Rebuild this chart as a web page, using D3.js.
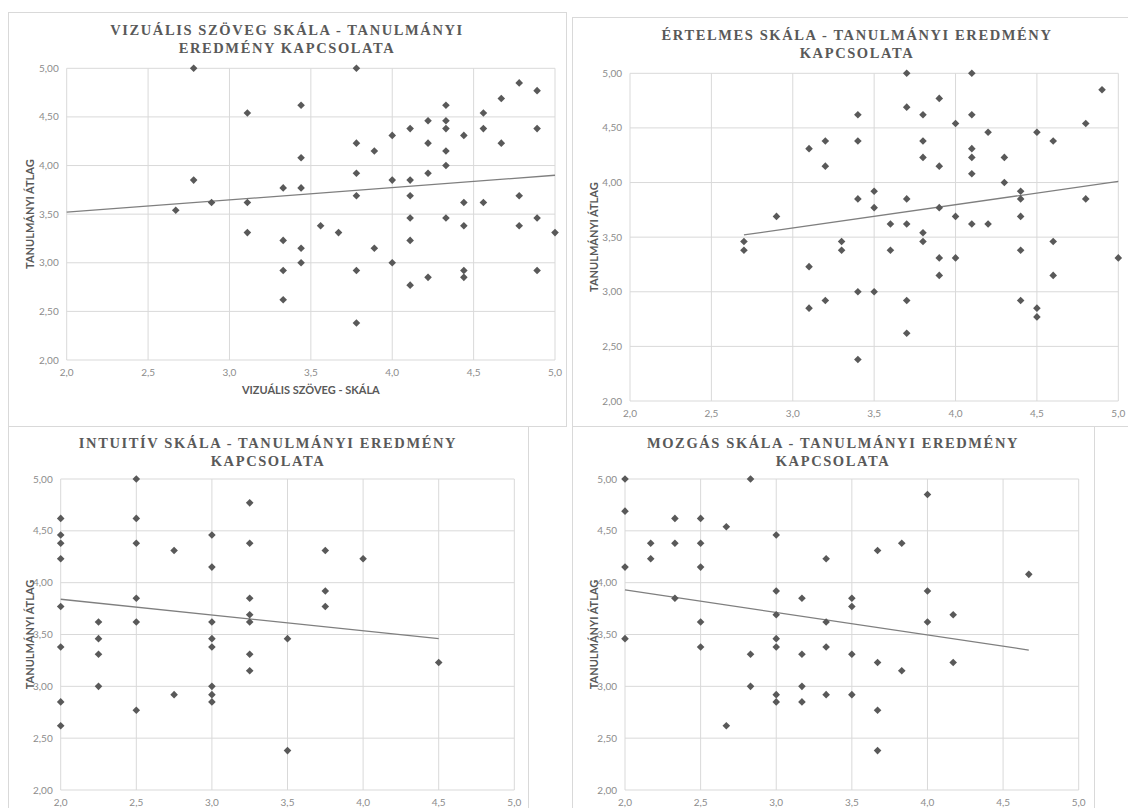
<!DOCTYPE html>
<html><head><meta charset="utf-8">
<script src="https://cdn.jsdelivr.net/npm/d3@7"></script>
<style>
html,body{margin:0;padding:0;background:#fff;}
svg{display:block;}
</style></head>
<body><svg id="c" width="1128" height="808"></svg>
<script>
// ---- Data ----
const xTicks = [2.0, 2.5, 3.0, 3.5, 4.0, 4.5, 5.0];
const yTicks = [2.0, 2.5, 3.0, 3.5, 4.0, 4.5, 5.0];
const yAxisTitle = "TANULMÁNYI ÁTLAG";

// Panel 1: Vizuális szöveg skála
const title1 = ["VIZUÁLIS SZÖVEG SKÁLA - TANULMÁNYI", "EREDMÉNY KAPCSOLATA"];
const xTitle1 = "VIZUÁLIS SZÖVEG - SKÁLA";
const vizX = [2.78,3.78,4.78,4.89,3.11,3.44,4.33,4.56,4.67,4.22,4.33,4.11,4.33,4.56,4.89,4.00,4.44,3.78,4.22,4.67,3.89,4.33,3.44,4.33,3.78,4.22,2.78,4.00,4.11,3.33,3.44,3.78,4.11,4.78,2.89,3.11,4.44,4.56,2.67,4.11,4.33,4.89,3.56,4.44,4.78,3.11,3.67,5.00,3.33,4.11,3.44,3.89,3.44,4.00,3.33,3.78,4.44,4.89,4.11,4.22,4.44,3.33,3.78];
const vizY = [5.00,5.00,4.85,4.77,4.54,4.62,4.62,4.54,4.69,4.46,4.46,4.38,4.38,4.38,4.38,4.31,4.31,4.23,4.23,4.23,4.15,4.15,4.08,4.00,3.92,3.92,3.85,3.85,3.85,3.77,3.77,3.69,3.69,3.69,3.62,3.62,3.62,3.62,3.54,3.46,3.46,3.46,3.38,3.38,3.38,3.31,3.31,3.31,3.23,3.23,3.15,3.15,3.00,3.00,2.92,2.92,2.92,2.92,2.77,2.85,2.85,2.62,2.38];
const trend1X = [2.0, 5.0];
const trend1Y = [3.52, 3.90];

// Panel 2: Értelmes skála
const title2 = ["ÉRTELMES SKÁLA - TANULMÁNYI EREDMÉNY", "KAPCSOLATA"];
const ertX = [3.7,4.1,4.9,3.9,3.7,3.4,3.8,4.1,4.0,4.8,4.2,4.5,3.2,3.4,3.8,4.6,3.1,4.1,3.8,4.1,4.3,3.2,3.9,4.1,4.3,3.5,4.4,3.4,3.7,4.4,4.8,3.5,3.9,2.9,4.0,4.4,3.6,3.7,4.1,4.2,3.8,2.7,3.3,3.8,4.6,2.7,3.3,3.6,4.4,3.9,4.0,5.0,3.1,3.9,4.6,3.4,3.5,3.2,3.7,4.4,3.1,4.5,4.5,3.7,3.4];
const ertY = [5.00,5.00,4.85,4.77,4.69,4.62,4.62,4.62,4.54,4.54,4.46,4.46,4.38,4.38,4.38,4.38,4.31,4.31,4.23,4.23,4.23,4.15,4.15,4.08,4.00,3.92,3.92,3.85,3.85,3.85,3.85,3.77,3.77,3.69,3.69,3.69,3.62,3.62,3.62,3.62,3.54,3.46,3.46,3.46,3.46,3.38,3.38,3.38,3.38,3.31,3.31,3.31,3.23,3.15,3.15,3.00,3.00,2.92,2.92,2.92,2.85,2.85,2.77,2.62,2.38];
const trend2X = [2.7, 5.0];
const trend2Y = [3.52, 4.01];

// Panel 3: Intuitív skála
const title3 = ["INTUITÍV SKÁLA - TANULMÁNYI EREDMÉNY", "KAPCSOLATA"];
const intX = [2.0,2.0,2.0,2.0,2.0,2.0,2.0,2.0,2.25,2.25,2.25,2.25,2.5,2.5,2.5,2.5,2.5,2.5,2.75,2.75,3.0,3.0,3.0,3.0,3.0,3.0,3.0,3.0,3.25,3.25,3.25,3.25,3.25,3.25,3.25,3.5,3.5,3.75,3.75,3.75,4.0,4.5];
const intY = [4.62,4.46,4.38,4.23,3.77,3.38,2.85,2.62,3.62,3.46,3.31,3.00,5.00,4.62,4.38,3.85,3.62,2.77,4.31,2.92,4.46,4.15,3.62,3.46,3.38,3.00,2.92,2.85,4.77,4.38,3.85,3.69,3.62,3.31,3.15,3.46,2.38,4.31,3.92,3.77,4.23,3.23];
const trend3X = [2.0, 4.5];
const trend3Y = [3.84, 3.46];

// Panel 4: Mozgás skála
const title4 = ["MOZGÁS SKÁLA - TANULMÁNYI EREDMÉNY", "KAPCSOLATA"];
const mozX = [2.0,2.0,2.0,2.0,2.17,2.17,2.33,2.33,2.33,2.5,2.5,2.5,2.5,2.5,2.67,2.67,2.83,2.83,2.83,3.0,3.0,3.0,3.0,3.0,3.0,3.0,3.17,3.17,3.17,3.17,3.33,3.33,3.33,3.33,3.5,3.5,3.5,3.5,3.67,3.67,3.67,3.67,3.83,3.83,4.0,4.0,4.0,4.17,4.17,4.67];
const mozY = [5.00,4.69,4.15,3.46,4.38,4.23,4.62,4.38,3.85,4.62,4.38,4.15,3.62,3.38,4.54,2.62,5.00,3.31,3.00,4.46,3.92,3.69,3.46,3.38,2.92,2.85,3.85,3.31,3.00,2.85,4.23,3.62,3.38,2.92,3.85,3.77,3.31,2.92,4.31,3.23,2.77,2.38,4.38,3.15,4.85,3.92,3.62,3.69,3.23,4.08];
const trend4X = [2.0, 4.67];
const trend4Y = [3.93, 3.35];

// ---- Layout ----
const panels = [
  {box:[8,12,558,414], plot:[66.7,68.3,555,360], title:title1, tY:35, xTitle:xTitle1, xs:vizX, ys:vizY, tx:trend1X, ty:trend1Y},
  {box:[572,17,570,409], plot:[630,73.3,1118.3,401], title:title2, tY:40, xs:ertX, ys:ertY, tx:trend2X, ty:trend2Y},
  {box:[8,426,520,400], plot:[60.7,479,514.3,790], title:title3, tY:448, xs:intX, ys:intY, tx:trend3X, ty:trend3Y},
  {box:[572,426,522,400], plot:[625,479,1078.7,790], title:title4, tY:448, xs:mozX, ys:mozY, tx:trend4X, ty:trend4Y}
];

const svg = d3.select("#c");
const fmtX = v => d3.format(".1f")(v).replace(".", ",");
const fmtY = v => d3.format(".2f")(v).replace(".", ",");

panels.forEach(p => {
  const g = svg.append("g");
  const [bx,by,bw,bh] = p.box;
  g.append("rect").attr("x",bx+0.5).attr("y",by+0.5).attr("width",bw).attr("height",bh)
    .attr("fill","#fff").attr("stroke","#d9d9d9").attr("stroke-width",1);
  const [l,t,r,b] = p.plot;
  const x = d3.scaleLinear().domain([2,5]).range([l,r]);
  const y = d3.scaleLinear().domain([2,5]).range([b,t]);

  // gridlines
  g.append("g").selectAll("line").data(xTicks).join("line")
    .attr("x1",d=>x(d)).attr("x2",d=>x(d)).attr("y1",t).attr("y2",b)
    .attr("stroke","#d9d9d9").attr("stroke-width",1);
  g.append("g").selectAll("line").data(yTicks).join("line")
    .attr("x1",l).attr("x2",r).attr("y1",d=>y(d)).attr("y2",d=>y(d))
    .attr("stroke","#d9d9d9").attr("stroke-width",1);

  // tick labels
  g.append("g").selectAll("text").data(yTicks).join("text")
    .attr("x",l-8).attr("y",d=>y(d)).attr("dy","0.35em").attr("text-anchor","end")
    .attr("font-family","Lato, 'Open Sans', sans-serif").attr("font-size",10).attr("fill","#8c8c8c")
    .text(fmtY);
  g.append("g").selectAll("text").data(xTicks).join("text")
    .attr("x",d=>x(d)).attr("y",b+16).attr("text-anchor","middle")
    .attr("font-family","Lato, 'Open Sans', sans-serif").attr("font-size",10).attr("fill","#8c8c8c")
    .text(fmtX);

  // title
  const cx = bx + bw/2;
  g.append("g").selectAll("text").data(p.title).join("text")
    .attr("x",cx).attr("y",(d,i)=>p.tY + i*18).attr("text-anchor","middle")
    .attr("font-family","'Liberation Serif', 'Times New Roman', serif").attr("font-weight","bold")
    .attr("font-size",14.5).attr("letter-spacing","1.6px").attr("fill","#595959")
    .text(d=>d);

  // y axis title
  const ycx = bx + 22;
  g.append("text").attr("transform",`translate(${ycx},${(t+b)/2}) rotate(-90)`)
    .attr("text-anchor","middle").attr("dy","0.35em")
    .attr("font-family","Lato, sans-serif").attr("font-weight","bold").attr("font-size",11)
    .attr("fill","#595959").text(yAxisTitle);

  if (p.xTitle){
    g.append("text").attr("x",(l+r)/2).attr("y",b+34).attr("text-anchor","middle")
      .attr("font-family","Lato, sans-serif").attr("font-weight","bold").attr("font-size",11)
      .attr("fill","#595959").text(p.xTitle);
  }

  // trend line
  g.append("line")
    .attr("x1",x(p.tx[0])).attr("y1",y(p.ty[0]))
    .attr("x2",x(p.tx[1])).attr("y2",y(p.ty[1]))
    .attr("stroke","#7f7f7f").attr("stroke-width",1.3);

  // points
  const rr = 3.8;
  const diamond = `M0,${-rr}L${rr},0L0,${rr}L${-rr},0Z`;
  g.append("g").selectAll("path").data(p.xs.map((v,i)=>[v,p.ys[i]])).join("path")
    .attr("d",diamond).attr("transform",d=>`translate(${x(d[0])},${y(d[1])})`)
    .attr("fill","#595959");
});
</script></body></html>
